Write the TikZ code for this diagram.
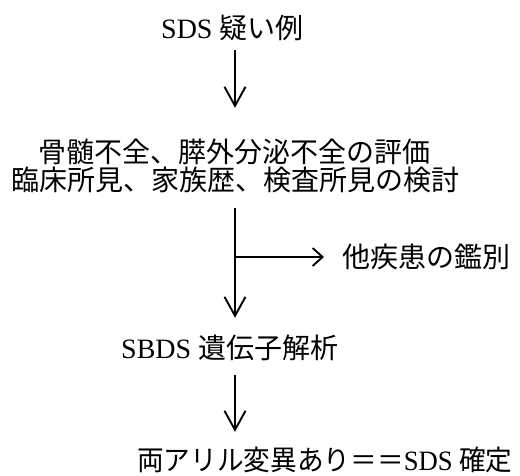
\documentclass[tikz,border=0pt]{standalone}
\usepackage{graphicx}
\usepackage{fontspec}
\setmainfont{Liberation Serif}
\newfontfamily\cjk{Noto Sans CJK JP}
\usetikzlibrary{arrows.meta}
\begin{document}
\begin{tikzpicture}[x=1pt,y=-1pt,
  lbl/.style={inner sep=0pt, text height=24.6pt, text depth=3.4pt, font=\fontsize{28}{32}\selectfont, anchor=west},
  varr/.style={line width=1.9pt, -{Straight Barb[length=19pt,width=21pt,line width=1.9pt]}},
  harr/.style={line width=1.9pt, -{Straight Barb[length=10pt,width=18pt,line width=1.9pt]}}]
\useasboundingbox (0,0) rectangle (520,476);
\coordinate (sp) at (235,0);
\node[lbl] (n1) at (161,28) {SDS {\cjk 疑い例}};
\node[lbl] (n2a) at (38,152) {\cjk 骨髄不全、膵外分泌不全の評価};
\node[lbl] (n2b) at (11,180) {\cjk 臨床所見、家族歴、検査所見の検討};
\node[lbl] (n5) at (342,257) {\cjk 他疾患の鑑別};
\node[lbl] (n4) at (121,348) {SBDS {\cjk 遺伝子解析}};
\node[lbl] (n6) at (137,460) {\scalebox{0.952}[1]{{\cjk 両アリル変異あり＝＝}SDS {\cjk 確定}}};
\draw[varr, shorten <=8pt, shorten >=30pt] (n1.south -| sp) -- (n2a.north -| sp);
\draw[varr, shorten <=14pt, shorten >=16pt] (n2b.south -| sp) -- (n4.north -| sp);
\draw[harr, shorten >=18pt] (n5.west -| sp) -- (n5.west);
\draw[varr, shorten <=13pt, shorten >=14pt] (n4.south -| sp) -- (n6.north -| sp);
\end{tikzpicture}
\end{document}
